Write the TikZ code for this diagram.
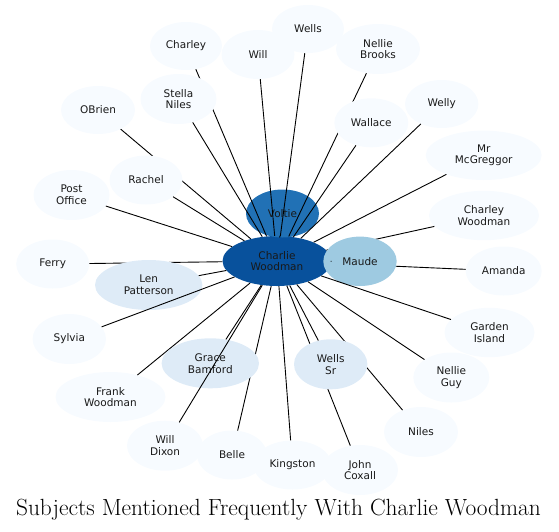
\documentclass[tikz,border=0pt]{standalone}
\usepackage{fontspec}
\newfontfamily\nodefont{DejaVu Sans}
\usetikzlibrary{shapes.geometric}
\definecolor{c0}{HTML}{08519C}
\definecolor{c1}{HTML}{2171B5}
\definecolor{c2}{HTML}{9ECAE1}
\definecolor{c3}{HTML}{DEEBF7}
\definecolor{c4}{HTML}{F7FBFF}
\tikzset{
  ent/.style={ellipse, inner sep=0pt, fill=c4, draw=none, align=center,
    font=\nodefont\fontsize{10.5}{11.8}\selectfont, text=black!90},
  sz/.style 2 args={minimum width=#1pt, minimum height=#2pt},
  link/.style={draw=black, line width=0.9pt},
}
\begin{document}
\begin{tikzpicture}[x=1pt,y=-1pt]
\useasboundingbox (0,0) rectangle (559,531);
\node[ent, sz={109}{50}, fill=c0] (cw) at (277,261) {Charlie\\Woodman};
\node[ent, sz={73}{48}, fill=c1] (voltie) at (282.5,213.5) {Voltie};
\draw[link] (cw) -- (voltie);
\node[ent, sz={72}{48}] (charley) at (186,46) {Charley};
\draw[link] (cw) -- (charley);
\node[ent, sz={73}{49}] (will) at (258,54.5) {Will};
\draw[link] (cw) -- (will);
\node[ent, sz={72}{48}] (wells) at (308,29) {Wells};
\draw[link] (cw) -- (wells);
\node[ent, sz={84}{50}] (nbrooks) at (378,49) {Nellie\\Brooks};
\draw[link] (cw) -- (nbrooks);
\node[ent, sz={76}{50}] (stella) at (178.5,99) {Stella\\Niles};
\draw[link] (cw) -- (stella);
\node[ent, sz={74}{49}] (wallace) at (371.3,122.8) {Wallace};
\draw[link] (cw) -- (wallace);
\node[ent, sz={74}{48}] (obrien) at (98,110) {OBrien};
\draw[link] (cw) -- (obrien);
\node[ent, sz={73}{49}] (rachel) at (146,180) {Rachel};
\draw[link] (cw) -- (rachel);
\node[ent, sz={76}{50}] (post) at (71.5,195) {Post\\Office};
\draw[link] (cw) -- (post);
\node[ent, sz={73}{49}] (ferry) at (52.7,264) {Ferry};
\draw[link] (cw) -- (ferry);
\node[ent, sz={107.4}{50}, fill=c3] (len) at (148.7,285) {Len\\Patterson};
\draw[link] (cw) -- (len);
\node[ent, sz={73.4}{50}] (sylvia) at (69.3,339) {Sylvia};
\draw[link] (cw) -- (sylvia);
\node[ent, sz={110}{50}] (frank) at (110.5,397) {Frank\\Woodman};
\draw[link] (cw) -- (frank);
\node[ent, sz={70}{49}] (belle) at (232,455) {Belle};
\draw[link] (cw) -- (belle);
\node[ent, sz={97.4}{50}, fill=c3] (grace) at (210.3,363.3) {Grace\\Bamford};
\draw[link] (cw) -- (grace);
\node[ent, sz={76}{50}] (willdixon) at (165,445.7) {Will\\Dixon};
\draw[link] (cw) -- (willdixon);
\node[ent, sz={78}{49}] (kingston) at (292.5,465) {Kingston};
\draw[link] (cw) -- (kingston);
\node[ent, sz={76}{50}] (john) at (360,470) {John\\Coxall};
\draw[link] (cw) -- (john);
\node[ent, sz={74}{50}] (niles) at (421,432) {Niles};
\draw[link] (cw) -- (niles);
\node[ent, sz={73.4}{50}, fill=c3] (wellssr) at (330.7,364.3) {Wells\\Sr};
\draw[link] (cw) -- (wellssr);
\node[ent, sz={110}{49.4}] (cwood) at (484,215.5) {Charley\\Woodman};
\draw[link] (cw) -- (cwood);
\node[ent, sz={76}{49}] (amanda) at (503.7,271) {Amanda};
\draw[link] (cw) -- (amanda);
\node[ent, sz={73.4}{49.4}, fill=c2] (maude) at (360,261.3) {Maude};
\draw[link, shorten >=7.5pt] (cw) -- (maude);
\node[ent, sz={90}{49.4}] (garden) at (489.5,332.5) {Garden\\Island};
\draw[link] (cw) -- (garden);
\node[ent, sz={76}{50}] (nguy) at (451.3,377.5) {Nellie\\Guy};
\draw[link] (cw) -- (nguy);
\node[ent, sz={73.4}{48}] (welly) at (441.7,104) {Welly};
\draw[link] (cw) -- (welly);
\node[ent, sz={116}{49.4}] (mrmc) at (483.7,155.3) {Mr\\McGreggor};
\draw[link] (cw) -- (mrmc);
\node (title) at (278.5,510) {\fontsize{23.4}{27}\selectfont Subjects Mentioned Frequently With Charlie Woodman};
\end{tikzpicture}
\end{document}
